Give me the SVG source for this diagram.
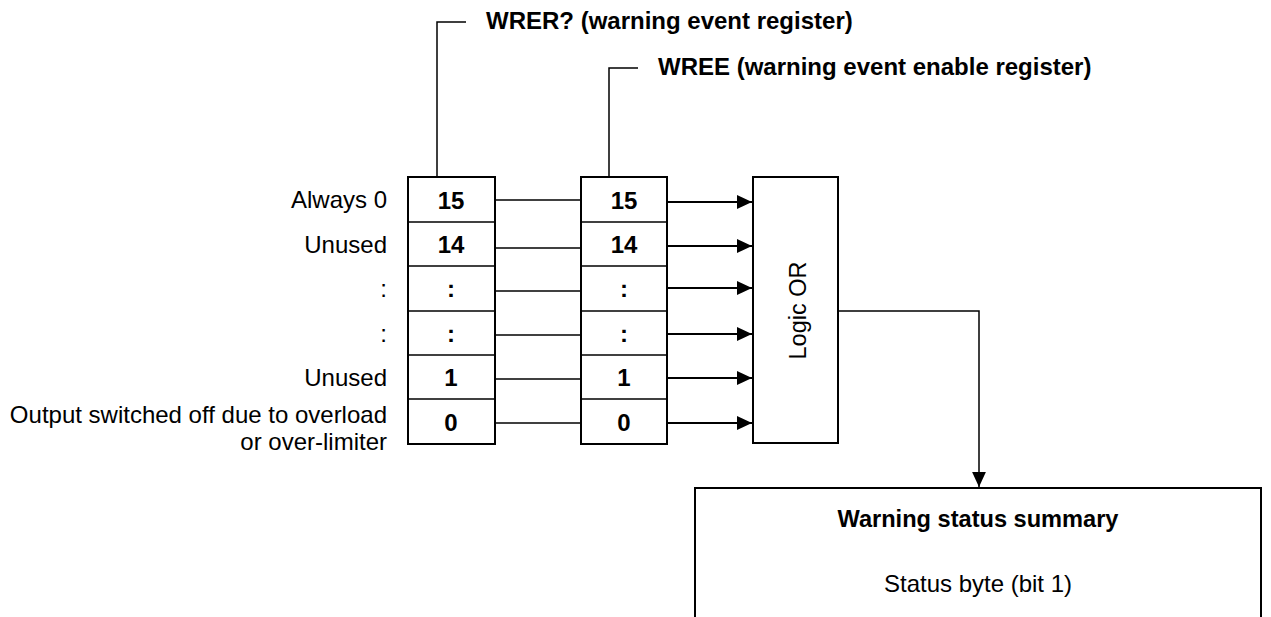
<svg xmlns="http://www.w3.org/2000/svg" width="1271" height="617" viewBox="0 0 1271 617">
<style>
.box{fill:#fff;stroke:#000;stroke-width:2}
.ln{fill:none;stroke:#000;stroke-width:1.5}
.ar{fill:none;stroke:#000;stroke-width:2}
text{font-family:"Liberation Sans",Arial,sans-serif;font-size:24px;fill:#000}
.b{font-weight:bold}
.n{font-weight:bold;text-anchor:middle}
.r{text-anchor:end}
.c{text-anchor:middle}
</style>
<defs>
<marker id="ahL" viewBox="0 0 10 10" refX="10" refY="5" markerWidth="15" markerHeight="15" markerUnits="userSpaceOnUse" orient="auto">
<path d="M0,0.4 L10,5 L0,9.6 z" fill="#000"/>
</marker>
</defs>
<g id="labels">
<text class="r" x="387" y="208">Always 0</text>
<text class="r" x="387" y="252.5">Unused</text>
<text class="r" x="387" y="297">:</text>
<text class="r" x="387" y="341.5">:</text>
<text class="r" x="387" y="386">Unused</text>
<text class="r" x="387" y="423">Output switched off due to overload</text>
<text class="r" x="387" y="450">or over-limiter</text>
</g>
<g id="wrer">
<rect class="box" x="408" y="177" width="87" height="267"/>
<line class="ln" x1="408" y1="222" x2="495" y2="222"/>
<line class="ln" x1="408" y1="266" x2="495" y2="266"/>
<line class="ln" x1="408" y1="311" x2="495" y2="311"/>
<line class="ln" x1="408" y1="355" x2="495" y2="355"/>
<line class="ln" x1="408" y1="399" x2="495" y2="399"/>
<text class="n" x="451" y="209">15</text>
<text class="n" x="451" y="253">14</text>
<text class="n" x="451" y="297">:</text>
<text class="n" x="451" y="342">:</text>
<text class="n" x="451" y="386">1</text>
<text class="n" x="451" y="431">0</text>
</g>
<g id="wree">
<rect class="box" x="581" y="177" width="86" height="267"/>
<line class="ln" x1="581" y1="222" x2="667" y2="222"/>
<line class="ln" x1="581" y1="266" x2="667" y2="266"/>
<line class="ln" x1="581" y1="311" x2="667" y2="311"/>
<line class="ln" x1="581" y1="355" x2="667" y2="355"/>
<line class="ln" x1="581" y1="399" x2="667" y2="399"/>
<text class="n" x="624" y="209">15</text>
<text class="n" x="624" y="253">14</text>
<text class="n" x="624" y="297">:</text>
<text class="n" x="624" y="342">:</text>
<text class="n" x="624" y="386">1</text>
<text class="n" x="624" y="431">0</text>
</g>
<g id="logic-or">
<rect class="box" x="753" y="177" width="85" height="266"/>
<text transform="translate(806,310.5) rotate(-90)" class="c" style="font-size:23.5px">Logic OR</text>
</g>
<g id="summary">
<rect class="box" x="695" y="488" width="566" height="140"/>
<text class="b c" x="978" y="527" style="font-size:23.6px">Warning status summary</text>
<text class="c" x="978" y="592">Status byte (bit 1)</text>
</g>
<g id="titles">
<text class="b" x="486" y="29">WRER? (warning event register)</text>
<text class="b" x="658" y="74.5">WREE (warning event enable register)</text>
</g>
<g id="connectors">
<polyline class="ln" points="437,177 437,22 466,22"/>
<polyline class="ln" points="609,177 609,68 638,68"/>
<line class="ln" x1="495" y1="200" x2="581" y2="200"/>
<line class="ln" x1="495" y1="248" x2="581" y2="248"/>
<line class="ln" x1="495" y1="291" x2="581" y2="291"/>
<line class="ln" x1="495" y1="335" x2="581" y2="335"/>
<line class="ln" x1="495" y1="379" x2="581" y2="379"/>
<line class="ln" x1="495" y1="423" x2="581" y2="423"/>
<line class="ar" x1="667" y1="202" x2="752" y2="202" marker-end="url(#ahL)"/>
<line class="ar" x1="667" y1="246" x2="752" y2="246" marker-end="url(#ahL)"/>
<line class="ar" x1="667" y1="288" x2="752" y2="288" marker-end="url(#ahL)"/>
<line class="ar" x1="667" y1="334" x2="752" y2="334" marker-end="url(#ahL)"/>
<line class="ar" x1="667" y1="378" x2="752" y2="378" marker-end="url(#ahL)"/>
<line class="ar" x1="667" y1="423" x2="752" y2="423" marker-end="url(#ahL)"/>
<polyline class="ar" points="838,311 979,311 979,487" marker-end="url(#ahL)" style="stroke-width:1.5"/>
</g>
</svg>
